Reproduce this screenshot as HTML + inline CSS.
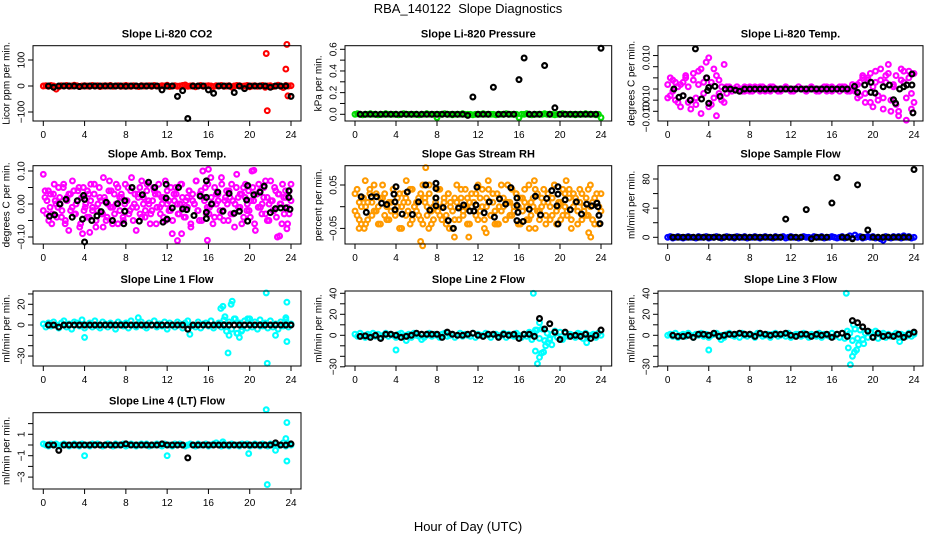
<!DOCTYPE html>
<html><head><meta charset="utf-8">
<style>
html,body{margin:0;padding:0;background:#fff;}
svg{display:block;font-family:"Liberation Sans",Arial,sans-serif;}
</style></head>
<body>
<svg id="fig" width="936" height="540" viewBox="0 0 936 540">
<text x="468" y="13" text-anchor="middle" font-size="13">RBA_140122&#160; Slope Diagnostics</text>
<text x="468" y="531" text-anchor="middle" font-size="13">Hour of Day (UTC)</text>
</svg>
<script>
// ---------- DATA ----------
const xTicks = [0,4,8,12,16,20,24];
const blackHours = [0.5,1,1.5,2,2.5,3,3.5,4,4.5,5,5.5,6,6.5,7,7.5,8,8.5,9,9.5,10,10.5,11,11.5,12,12.5,13,13.5,14,14.5,15,15.5,16,16.5,17,17.5,18,18.5,19,19.5,20,20.5,21,21.5,22,22.5,23,23.5,24];

// Panel 1: CO2
const co2Color = [0,1,-1,2,0,-12,-3,1,0,2,-1,0,3,1,-2,0,1,0,-1,2,0,1,-2,0,1,0,2,-1,0,1,-1,0,2,0,-1,1,0,-2,1,0,0,1,-1,2,0,-1,1,0,3,-2,0,1,-1,0,2,4,-1,0,1,-3,0,2,-1,0,1,0,-2,1,0,2,-1,0,1,-4,0,2,1,-1,0,2,-3,0,1,-1,0,2,-5,0,1,-2,0,3,-1,-6,2,0,1];
const co2OutH = [21.6,21.7,23.5,23.6,23.7];
const co2OutV = [125,-95,65,160,-38];
const co2Black = [0,-5,0,0,0,0,-2,0,0,0,0,0,0,0,0,-1,0,0,0,0,0,0,-15,0,0,-40,-18,-125,0,0,0,-15,-28,0,0,0,-25,0,-10,0,0,0,0,-5,0,0,0,-40];

// Panel 2: Pressure
const presColor = [0,0.005,0,-0.005,0,0,0.005,0,0,-0.005,0,0,0.005,0,0,0,0,-0.005,0,0.005,0,0,0,0,0,-0.005,0,0,0.005,0,0,0,-0.03,0,0,0.005,0,0,-0.005,0,0,0,0.005,0,0,0,-0.005,0,0,0,0.005,0,0,0,0,-0.005,0,0,0,0.005,0,0,0,0,-0.03,0,0,0.005,0,-0.005,0,0,0,0,0.005,0,0,0,-0.005,0,0,0.005,0,0,0,0,-0.005,0,0,0,0.005,0,0,0,-0.005,0,-0.03];
const presBlack = [0,0,0,0,0,0,0,0,0,0,0,0,0,0,0,0,0,0,0,0,0,-0.01,0.16,0,0,0,0.25,0,0,0,0,0.32,0.52,0,0,0,0.45,0,0.06,0,0,0,0,0,0,0,0,0.61];

// Panel 3: Li-820 Temp (units 0.001)
const liColor = [2,-3,4,-5,1,-8,3,5,-6,-9,7,-4,8,-11,3,12,14,-7,9,-12,4,-5,11,-2,1,-1,0,1,0,-1,1,0,-1,0,1,0,-1,1,0,0,-1,1,0,0,-1,0,1,0,0,-1,0,1,0,0,-1,0,1,0,-1,0,0,1,-1,0,1,0,0,-1,1,0,0,-1,0,1,2,-3,5,-6,4,7,-8,3,-5,9,-4,6,11,-10,2,-7,-12,4,8,-14,5,-9,7];
const liColor2 = [-4,5,-1,3,-6,2,-3,6,1,-5,4,-7,2,9,-2,5,-8,3,-4,6,-2,1,-6,1,0,-1,0,1,0,0,-1,0,1,-1,0,0,1,0,-1,0,1,0,0,-1,0,0,1,0,-1,0,0,1,0,0,-1,0,1,0,0,-1,0,0,1,0,-1,0,0,1,0,1,-1,0,2,-1,-4,3,6,-2,5,-6,1,8,-3,4,-9,3,7,-5,1,6,-10,9,3,-4,8,-2,-6];
const liBlackH = [0.6,1.1,1.5,2.2,2.7,3.3,3.8,3.9,4,4,4.6,5.1,5.6,6.1,6.6,7,7.5,8,8.5,9,9.5,10,10.5,11,11.5,12,12.5,13,13.5,14,14.5,15,15.5,16,16.5,17,17.5,18.2,18.5,19.2,19.8,19.8,20.2,21,21.6,22,22.2,22.6,23,23.3,23.8,23.8,23.9];
const liBlackV = [0,-3.7,-3,-5,18,-4.5,5,-0.7,-6.4,0.7,1.2,-3.3,0,0,-0.5,-1,0,0,0,0,0,0,0,0,0,0,0,0,0,0,0,0,0,0,0,0,0,1.2,-1.5,1.8,3,-1.5,-1.8,1,1.8,-4.8,-6.4,0,1,1.8,6.7,1.8,-10.7];

// Panel 4: Amb. Box Temp (units 0.01)
const ambColor = [9,2,-3,4,-1,-6,3,1,-4,5,0,-2,6,-5,2,-8,3,-1,4,-3,1,5,-6,2,-2,0,4,-4,6,-1,3,-7,-2,5,1,-3,2,-5,0,7,4,-1,-3,6,-6,2,3,-4,0,1,5,-2,8,-5,3,-1,2,-3,7,0,-4,4,1,-6,-2,5,3,-1,6,-3,0,2,-5,4,1,-2,-9,3,5,0,-3,6,2,-4,1,-1,4,-7,3,0,7,-2,-5,4,10,1,-3,6,-1,2,-6,5,0,3,-4,8,-2,1,4,-5,2,6,-3,0,9,-1,3,-6,5,2,-2,4,-4,10,1,-8,3,6,-1,0,5,-3,2,-5,7,1,-2,4,-10,3,0,6,-3,2,-6,4,1];
const ambColor2 = [-2,4,1,-5,3,-3,6,0,-1,2,-4,5,-6,1,3,-2,7,-3,0,4,-7,2,5,-1,-4,3,1,-2,6,-5,0,2,-3,8,1,-4,4,-1,-6,3,0,5,-2,2,-5,6,1,-3,4,-1,0,-8,3,5,-4,2,-2,6,0,-3,1,4,-6,3,-1,2,-4,7,0,-2,5,-5,1,3,-3,0,6,-1,-4,2,4,-6,1,0,7,-2,3,-5,2,5,-1,-3,8,0,-4,3,1,-2,6,-5,2,0,4,-3,1,-7,5,2,-1,3,-4,6,0,-2,1,5,-6,3,-1,4,-3,2,7,-5,0,1,-2,5,-4,3,0,-6,2,4,-1,-3,6];
const ambOutH = [3.8,4.5,5.8,13,13.4,15.9,16,20.4,22.9,23.6];
const ambOutV = [-9,-8.6,-7,-11.1,-9,-11,10.5,10.2,-9.7,-7.5];
const ambBlackH = [0.6,1.1,1.6,2.2,2.8,3.3,3.8,3.9,4,4,4.7,5.2,5.6,6.1,6.7,7.2,7.8,7.9,7.9,8.6,9.3,9.6,10.2,10.8,11.6,11.9,11.9,12,12.5,13.1,13.5,13.9,14.6,15.2,15.8,15.8,15.8,15.8,16.3,16.9,17.4,18,18.5,19,19.7,19.8,19.8,20.4,21,21.4,22,22.5,23,23.5,23.8,23.9,23.8];
const ambBlackV = [-3.7,-3.3,0,1.4,-4,1,-4.6,2.6,1.4,-11.5,-5,-3.6,-2.3,0.5,-5,0.1,-6,1,-2.2,5,-5.2,2.8,6.6,5,-5.5,6,1.8,-4.6,-1.2,5,-1.5,-1.7,-3.5,2.4,7,-4.4,-2.5,2,0,3.6,-2.2,3.2,-2.8,-2.2,1.2,-5.2,5.6,2.8,3.6,5.4,-2.6,-1.4,-1.2,-1.2,2,-1.6,4];

// Panel 5: Gas Stream RH (units 0.01)
const rhColor = [3,-2,1,-4,2,0,-3,4,1,-1,3,-4,2,5,-2,0,-3,1,4,-1,2,-5,0,3,-2,1,-4,4,0,-1,2,-3,5,1,-2,3,-4,0,2,-1,4,-3,1,-2,3,0,-5,2,1,-3,4,-1,0,2,-4,3,1,-2,5,-1,0,-3,2,4,-2,1,-4,3,0,-1,2,-3,5,1,-2,0,3,-4,2,-1,4,0,-3,1,2,-5,3,-1,0,4,-2,1,-3,2,5,-4,0,1,-2,3,-1,4,-3,0,2,-4,1,3,-1,-2,4,0,-3,2,1,-4,3];
const rhColor2 = [-1,4,-3,0,2,-4,1,3,-2,5,-1,0,-4,2,3,-3,1,-1,4,-2,0,3,-5,1,2,-1,4,-3,0,1,-2,3,-4,2,0,5,-1,-3,1,4,-2,0,2,-4,3,1,-1,-3,5,0,2,-2,4,-4,1,0,-1,3,-3,2,4,-5,0,1,-2,3,-1,-4,2,5,0,-3,1,-2,4,-1,3,0,-4,2,1,-3,5,-2,0,4,-1,-3,2,1,-4,3,0,-2,5,-1,1,-3,4,0,-2,2,-5,3,1,-1,4,-3,0,2,-2,5,1,-4,3,0,-1];
const rhOutH = [0.4,0.9,1,5,6.4,6.6,6.9,7.2,9.2,9.7,11.1,12.8,13,14,17,17.5,20.6,22.8,23];
const rhOutV = [-5,-5,6,6,-8,-9,9,-5,-5,-7,-7,-6,6,-4,-5,6,6,-6,-7];
const rhBlackH = [0.6,1.1,1.6,2.1,2.6,3.1,3.8,3.9,4,3.9,4.6,5.1,5.6,6.2,6.9,7.3,7.9,7.9,7.9,7.9,8.6,9.1,9.6,10.1,10.6,11.2,11.6,11.8,11.9,12.6,13.1,13.6,14.1,14.7,15.2,15.8,15.8,15.8,15.9,16.4,17,17.6,18.1,18.7,19.2,19.7,19.8,19.8,19.8,20.5,21,21.6,22.1,22.6,23.1,23.6,23.7,23.8,23.9];
const rhBlackV = [2.3,-1.3,2.3,2.3,0.8,0.5,2.9,-0.7,4.6,1.1,-1.7,3.4,-1.8,1.1,5,-0.8,5.4,4.2,2,0.2,-0.2,-3.2,-5,-0.3,0.4,-1,-1,0.4,4.5,-1.4,1.1,-2.4,1.8,0.6,4.4,2,0.3,-3.2,-1.3,-3.4,-0.6,2.4,-1.9,1.9,3.7,0.2,-4,2.9,4.6,1.6,-0.7,1.1,-1.7,0.6,0.2,0.8,0,-2,-3.9];

// Panel 6: Sample Flow
const sampColor = [0,1,-1,0,1,0,-1,0,1,0,0,-1,1,0,0,1,-1,0,0,1,0,-1,0,1,0,0,-1,1,0,0,1,-1,0,0,1,0,-1,0,1,0,0,-1,1,0,0,1,-1,0,1,0,0,-1,0,1,0,0,-1,1,0,0,1,-1,0,0,1,0,-1,0,1,-1,0,2,-1,3,0,1,-1,0,1,0,1,-1,0,-2,-4,1,0,-1,1,0,1,-1,2,0,1,-1,0];
const sampBlack = [0,0,0,0,0,0,0,0,0,0,0,0,0,0,0,0,0,0,0,0,0,0,25,0,0,0,38,-2,0,0,0,47,82,0,0,-2,72,0,10,0,0,0,0,0,0,0,0,93];

// Panel 7: Line 1 Flow
const l1Color = [1,-2,2,-1,3,0,-3,2,4,-2,1,-4,3,2,-1,5,-3,0,2,-2,4,-1,-3,3,1,-2,2,0,-4,3,1,-1,2,-3,4,0,-2,1,3,-1,-3,2,0,4,-2,1,-1,3,-4,2,0,-2,3,1,-3,2,4,-1,0,-2,3,-3,1,2,-1,4,-3,0,2,-2,5,-6,3,-4,6,-8,2,-5,4,-3,6,-2,3,-4,5,-1,2,-3,4,-2,1,-4,3,-1,5,-2,1];
const l1OutH = [4,9.2,14.2,17.2,17.4,17.6,17.9,18,18.2,18.3,18.6,19,19.8,21.6,21.7,22.5,23.6,23.6,23.5,18.8,19.2];
const l1OutV = [-12,7,-9,16,18,8,-27,-10,20,23,6,-12,6,31,-37,-10,22,-16,7,-8,-6];
const l1Black = [0,0,-2,0,0,0,0,0,0,0,0,0,0,0,0,0,0,0,0,0,0,0,0,0,0,0,0,-4,0,0,0,0,0,0,0,0,0,0,0,0,0,0,0,0,0,0,0,0];

// Panel 8: Line 2 Flow
const l2Color = [1,-1,2,0,-2,1,0,2,-1,1,-2,0,2,-1,1,0,-2,1,2,-1,0,1,-2,2,0,-1,1,-2,0,2,-1,1,0,-2,1,2,-1,0,1,-2,0,2,-1,1,0,-1,2,-2,1,0,-1,2,0,-2,1,1,-1,0,2,-2,1,0,-1,2,0,-2,1,-1,3,-4,2,5,-3,6,-5,2,-3,1,4,-2,3,-4,2,-1,1,0,-2,2,1,-3,2,-1,0,1,-2,2,0];
const l2OutH = [4,5,6.5,17.4,17.6,17.8,18,18.2,18.4,18.6,18.8,19.2,18,19,22.6,17.6];
const l2OutV = [-14,-5,-4,40,-15,-27,-21,-17,-16,-10,-7,-9,12,-4,-7,5];
const l2Black = [-1,-0.5,-2,0,-3,1,1,0,-2,-1,0,2,1,1,1,1,-2,3,1,0,0,1,2,0,-1,1,1,-2,1,0,1,-3,1,1,-1,16,6,11,3,-4,3,-1,0,-1,1,-3,0,5];

// Panel 9: Line 3 Flow
const l3Color = [0,1,-1,2,-2,0,1,-1,2,0,-2,1,0,2,-1,1,-2,0,1,2,-1,0,-2,1,2,0,-1,1,-2,2,0,-1,1,0,-2,2,1,-1,0,1,-2,1,2,-1,0,1,-1,2,-2,0,1,1,-1,2,0,-2,1,0,-1,2,-2,1,0,-1,2,-1,1,-2,2,-3,4,2,-5,6,-3,5,-4,2,-2,3,-1,4,-3,1,2,-2,1,-1,0,2,-2,1,0,-1,2,-1,1];
const l3OutH = [4,5.2,17.4,17.6,17.8,18,18.2,18.4,18.6,19.1,18.1,22.6];
const l3OutV = [-14,-4,40,-12,-28,-20,-16,-14,-9,-8,10,-6];
const l3Black = [0,-1,-1,0,-2,1,1,0,2,-1,0,1,1,2,1,1,-1,2,1,0,1,1,2,0,-1,1,1,-1,1,0,1,-2,1,2,-1,14,12,8,4,-2,2,-1,0,-1,1,-2,1,3];

// Panel 10: Line 4 (LT) Flow
const l4Color = [0.1,0,-0.1,0.1,0,0.1,-0.1,0,0.1,0,-0.1,0,0.1,0,-0.1,0.1,0,0,-0.1,0.1,0,0.1,0,-0.1,0,0.1,0,-0.1,0.1,0,0,0.1,-0.1,0,0.1,0,-0.1,0,0.1,0,0.1,-0.1,0,0,0.1,0,-0.1,0.1,0,0,-0.1,0.1,0,0.1,0,-0.1,0,0.1,0,-0.1,0.1,0,0,0.1,-0.1,0,0.1,0.2,0,-0.1,0.1,0,-0.1,0.1,0,0,-0.1,0.1,0,0.1,-0.1,0,0.1,0,-0.1,0.1,0,-0.1,0.1,0,0.1,-0.1,0,0.2,-0.1,0.1,0];
const l4OutH = [4,12,19.9,21.6,21.7,22.5,23.6,23.5,23.6,17.4];
const l4OutV = [-1,-1,-0.8,3.3,-3.7,-0.5,2.1,0.6,-1.5,0.3];
const l4Black = [0,0,-0.5,0,0,0,0,0,0,0,0,0,0,0,0,0.1,0,0,0,0,0,0,0.1,0,0,0,0,-1.2,0,0,0,0,0,0,0,0,0,0,0,0,0,0,0,0,0.2,0,0,0.1];

// ---------- LAYOUT ----------
const NS = 'http://www.w3.org/2000/svg';
const svg = document.getElementById('fig');
const cols = [{x1:33,x2:301,x0:43.3,x24:291},{x1:345,x2:611.7,x0:355,x24:601},{x1:658,x2:923,x0:667.7,x24:914}];
const rows = [{y1:45.7,y2:121},{y1:165.7,y2:244},{y1:291,y2:366},{y1:412.7,y2:489}];

function seq(arr){return arr.map((v,i)=>[24*i/(arr.length-1),v]);}
function blk(arr){return arr.map((v,i)=>[blackHours[i],v]);}
function pairs(h,v){return h.map((x,i)=>[x,v[i]]);}

const panels = [
 {id:'co2',title:'Slope Li-820 CO2',ylab:'Licor ppm per min.',c:0,r:0,vA:0,pA:86,vB:100,pB:60,ticks:[-100,0,100],labels:[[-100,'\u2212100'],[0,'0'],[100,'100']],color:'#ff0000',
  colored:[seq(co2Color),pairs(co2OutH,co2OutV)],black:[blk(co2Black)]},
 {id:'pressure',title:'Slope Li-820 Pressure',ylab:'kPa per min.',c:1,r:0,vA:0,pA:114.3,vB:0.6,pB:49.3,ticks:[0,0.1,0.2,0.3,0.4,0.5,0.6],labels:[[0,'0.0'],[0.2,'0.2'],[0.4,'0.4'],[0.6,'0.6']],color:'#00dd00',
  colored:[seq(presColor)],black:[blk(presBlack)]},
 {id:'li-temp',title:'Slope Li-820 Temp.',ylab:'degrees C per min.',c:2,r:0,vA:0,pA:89,vB:0.010,pB:66.7,scale:0.001,ticks:[-0.010,-0.005,0,0.005,0.010,0.015],labels:[[0.014,'0.010'],[-0.004,'0.010'],[-0.0125,'\u22120.010']],color:'#ff00ff',
  colored:[seq(liColor),seq(liColor2)],black:[pairs(liBlackH,liBlackV)]},
 {id:'amb-temp',title:'Slope Amb. Box Temp.',ylab:'degrees C per min.',c:0,r:1,vA:0,pA:204,vB:0.10,pB:171,scale:0.01,ticks:[-0.10,-0.05,0,0.05,0.10],labels:[[-0.10,'\u22120.10'],[0,'0.00'],[0.10,'0.10']],color:'#ff00ff',
  colored:[seq(ambColor),seq(ambColor2),pairs(ambOutH,ambOutV)],black:[pairs(ambBlackH,ambBlackV)]},
 {id:'rh',title:'Slope Gas Stream RH',ylab:'percent per min.',c:1,r:1,vA:0,pA:206.7,vB:0.05,pB:185,scale:0.01,ticks:[-0.05,0,0.05],labels:[[-0.05,'\u22120.05'],[0.05,'0.05']],color:'#ff9a00',
  colored:[seq(rhColor),seq(rhColor2),pairs(rhOutH,rhOutV)],black:[pairs(rhBlackH,rhBlackV)]},
 {id:'sample-flow',title:'Slope Sample Flow',ylab:'ml/min per min.',c:2,r:1,vA:0,pA:237.3,vB:80,pB:179,ticks:[0,20,40,60,80],labels:[[0,'0'],[40,'40'],[80,'80']],color:'#0000ff',
  colored:[seq(sampColor)],black:[blk(sampBlack)]},
 {id:'line1-flow',title:'Slope Line 1 Flow',ylab:'ml/min per min.',c:0,r:2,vA:0,pA:325,vB:20,pB:304.3,ticks:[-30,-20,-10,0,10,20,30],labels:[[-30,'\u221230'],[0,'0'],[20,'20']],color:'#00ffff',
  colored:[seq(l1Color),pairs(l1OutH,l1OutV)],black:[blk(l1Black)]},
 {id:'line2-flow',title:'Slope Line 2 Flow',ylab:'ml/min per min.',c:1,r:2,vA:0,pA:335.3,vB:40,pB:293.3,ticks:[-30,-20,-10,0,10,20,30,40],labels:[[-30,'\u221230'],[0,'0'],[20,'20'],[40,'40']],color:'#00ffff',
  colored:[seq(l2Color),pairs(l2OutH,l2OutV)],black:[blk(l2Black)]},
 {id:'line3-flow',title:'Slope Line 3 Flow',ylab:'ml/min per min.',c:2,r:2,vA:0,pA:335.3,vB:40,pB:293.3,ticks:[-30,-20,-10,0,10,20,30,40],labels:[[-30,'\u221230'],[0,'0'],[20,'20'],[40,'40']],color:'#00ffff',
  colored:[seq(l3Color),pairs(l3OutH,l3OutV)],black:[blk(l3Black)]},
 {id:'line4-flow',title:'Slope Line 4 (LT) Flow',ylab:'ml/min per min.',c:0,r:3,vA:0,pA:445,vB:1,pB:434.3,ticks:[-3,-2,-1,0,1,2],labels:[[-3,'\u22123'],[-1,'\u22121'],[1,'1']],color:'#00ffff',
  colored:[seq(l4Color),pairs(l4OutH,l4OutV)],black:[blk(l4Black)]}
];

function el(tag, attrs, parent){
  const e=document.createElementNS(NS,tag);
  for(const k in attrs) e.setAttribute(k,attrs[k]);
  parent.appendChild(e); return e;
}

panels.forEach(p=>{
  const C=cols[p.c], R=rows[p.r];
  const sc=p.scale||1;
  const xS=h=>C.x0+(h/24)*(C.x24-C.x0);
  const yS=v=>p.pA+(v-p.vA)*(p.pB-p.pA)/(p.vB-p.vA);
  const g=el('g',{},svg);
  
  

  const t=el('text',{x:(C.x1+C.x2)/2,y:R.y1-8,'text-anchor':'middle','font-size':'11','font-weight':'bold'},g);
  t.textContent=p.title;
  
  

  const yl=el('text',{x:C.x1-26,y:(R.y1+R.y2)/2,'text-anchor':'middle','font-size':'10','dominant-baseline':'central',transform:`rotate(-90 ${C.x1-26} ${(R.y1+R.y2)/2})`},g);
  yl.textContent=p.ylab;
  
  

  // points
  const pts=el('g',{fill:'none'},g);
  
  
  p.colored.forEach(s=>s.forEach(([h,v])=>{
    const c=el('circle',{cx:xS(h),cy:yS(v*sc),r:2.4,stroke:p.color,'stroke-width':2.1},pts);
    
    
  }));
  p.black.forEach(s=>s.forEach(([h,v])=>{
    const c=el('circle',{cx:xS(h),cy:yS(v*sc),r:2.4,stroke:'#000','stroke-width':2.2},pts);
    
    
  }));

  // box
  const b=el('rect',{x:C.x1,y:R.y1,width:C.x2-C.x1,height:R.y2-R.y1,fill:'none',stroke:'#000','stroke-width':1},g);
  
  

  // x axis
  const xa=el('g',{},g);
  
  
  el('line',{x1:xS(0),x2:xS(24),y1:R.y2,y2:R.y2,stroke:'#000'},xa);
  xTicks.forEach(h=>{
    el('line',{x1:xS(h),x2:xS(h),y1:R.y2,y2:R.y2+5,stroke:'#000'},xa);
    const tx=el('text',{x:xS(h),y:R.y2+17,'text-anchor':'middle','font-size':'10'},xa);
    tx.textContent=String(h);
    
    
  });

  // y axis
  const ya=el('g',{},g);
  
  
  el('line',{x1:C.x1,x2:C.x1,y1:yS(p.ticks[0]),y2:yS(p.ticks[p.ticks.length-1]),stroke:'#000'},ya);
  p.ticks.forEach(v=>{
    el('line',{x1:C.x1-5,x2:C.x1,y1:yS(v),y2:yS(v),stroke:'#000'},ya);
  });
  p.labels.forEach(([v,s])=>{
    const lx=C.x1-11, ly=yS(v);
    const tx=el('text',{x:lx,y:ly,'text-anchor':'middle','font-size':'10','dominant-baseline':'central',transform:`rotate(-90 ${lx} ${ly})`},ya);
    tx.textContent=s;
    
    
  });
});
</script>
</body></html>
